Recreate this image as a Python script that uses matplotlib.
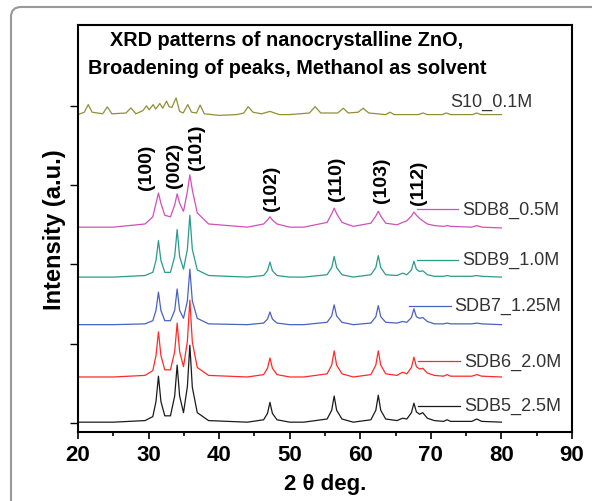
import matplotlib
matplotlib.use("Agg")
import matplotlib.pyplot as plt
from matplotlib.patches import FancyBboxPatch

plt.rcParams['font.family'] = ['Liberation Sans', 'DejaVu Sans']

# 2 theta grid shared by the ZnO patterns
two_theta = [20.0, 25.0,
             29.5, 30.6, 31.05, 31.4, 31.75, 32.3, 33.1, 33.7,
             34.05, 34.4, 34.95, 35.5, 35.85, 36.2, 36.9, 38.5,
             44.0,
             46.3, 46.85, 47.2, 47.55, 48.2,
             50.0, 52.0,
             55.3, 55.95, 56.3, 56.65, 57.4,
             59.0,
             61.5, 62.2, 62.55, 62.9, 63.6,
             65.2, 66.0, 66.6, 67.25, 67.6, 67.95, 68.4, 68.85, 69.5, 70.5,
             71.8, 72.3, 72.8,
             75.8, 76.5, 77.2,
             80.0]

sdb5 = [0, 0,
        0.02, 0.07, 0.26, 0.58, 0.26, 0.08, 0.08, 0.33,
        0.72, 0.33, 0.12, 0.45, 0.97, 0.44, 0.12, 0.02,
        0.0,
        0.03, 0.11, 0.25, 0.11, 0.03,
        0.0, 0.0,
        0.04, 0.15, 0.33, 0.15, 0.04,
        0.0,
        0.03, 0.15, 0.34, 0.15, 0.04,
        0.02, 0.05, 0.04, 0.12, 0.24, 0.13, 0.1, 0.12, 0.05, 0.02,
        0.01, 0.03, 0.01,
        0.01, 0.04, 0.01,
        0.0]
sdb6 = [0, 0,
        0.02, 0.08, 0.27, 0.57, 0.27, 0.09, 0.09, 0.32,
        0.68, 0.32, 0.13, 0.45, 0.97, 0.44, 0.12, 0.02,
        0.0,
        0.03, 0.11, 0.24, 0.11, 0.03,
        0.0, 0.0,
        0.04, 0.15, 0.33, 0.15, 0.04,
        0.0,
        0.03, 0.15, 0.33, 0.15, 0.04,
        0.02, 0.06, 0.04, 0.12, 0.25, 0.13, 0.1, 0.11, 0.05, 0.02,
        0.01, 0.03, 0.01,
        0.01, 0.03, 0.01,
        0.0]
sdb7 = [0, 0,
        0.01, 0.05, 0.18, 0.41, 0.18, 0.05, 0.05, 0.18,
        0.45, 0.18, 0.08, 0.3, 0.70, 0.3, 0.08, 0.01,
        0.0,
        0.02, 0.07, 0.16, 0.07, 0.02,
        0.0, 0.0,
        0.03, 0.11, 0.25, 0.11, 0.03,
        0.0,
        0.02, 0.1, 0.24, 0.1, 0.03,
        0.02, 0.04, 0.03, 0.09, 0.2, 0.1, 0.08, 0.09, 0.04, 0.01,
        0.01, 0.02, 0.01,
        0.01, 0.02, 0.01,
        0.0]
sdb9 = [0, 0,
        0.02, 0.06, 0.21, 0.46, 0.21, 0.06, 0.06, 0.26,
        0.60, 0.26, 0.1, 0.35, 0.78, 0.35, 0.09, 0.02,
        0.0,
        0.02, 0.08, 0.19, 0.08, 0.02,
        0.0, 0.0,
        0.03, 0.12, 0.26, 0.12, 0.03,
        0.0,
        0.03, 0.12, 0.27, 0.12, 0.03,
        0.02, 0.05, 0.03, 0.09, 0.2, 0.1, 0.07, 0.08, 0.03, 0.01,
        0.01, 0.02, 0.01,
        0.01, 0.02, 0.01,
        0.0]
sdb8 = [0, 0,
        0.04, 0.13, 0.3, 0.43, 0.3, 0.15, 0.13, 0.28,
        0.42, 0.3, 0.2, 0.45, 0.66, 0.47, 0.18, 0.04,
        0.0,
        0.04, 0.09, 0.13, 0.09, 0.04,
        0.0, 0.0,
        0.06, 0.17, 0.24, 0.17, 0.06,
        0.01,
        0.05, 0.14, 0.2, 0.14, 0.05,
        0.03, 0.06, 0.08, 0.14, 0.19, 0.15, 0.11, 0.08, 0.04, 0.02,
        0.01, 0.02, 0.01,
        0.0, 0.02, 0.0,
        -0.01]

# S10 pattern (no ZnO peaks, many small reflections)
s10_theta = [20.0, 20.9, 21.45, 22.0, 23.5, 24.15, 24.8, 26.8, 27.5, 28.2,
             29.2, 29.7, 30.1, 30.65, 31.0, 31.6, 32.0, 32.55, 32.9, 33.3,
             33.9, 34.4, 34.9, 35.55, 36.1, 36.8, 37.3, 37.9, 40.0, 42.5,
             43.5, 44.1, 44.8, 46.0, 47.2, 48.5, 50.0, 52.8, 53.6, 54.4,
             56.8, 57.6, 58.3, 59.7, 60.4, 61.2, 63.6, 64.2, 64.8, 68.2,
             68.9, 69.5, 71.6, 72.2, 72.8, 75.9, 76.5, 77.1, 80.0]
s10 = [0.0, 0.03, 0.126, 0.03, 0.01, 0.097, 0.01, 0.02, 0.084, 0.01,
       0.05, 0.11, 0.06, 0.126, 0.07, 0.14, 0.08, 0.17, 0.1, 0.09,
       0.21, 0.04, 0.02, 0.126, 0.03, 0.02, 0.12, 0.01, -0.01, 0.0,
       0.02, 0.1, 0.03, 0.01, 0.04, 0.0, 0.0, 0.02, 0.1, 0.02,
       0.02, 0.08, 0.02, 0.03, 0.08, 0.02, 0.0, 0.03, 0.0, 0.0,
       0.02, 0.0, 0.0, 0.02, 0.0, 0.0, 0.02, 0.0, 0.0]

patterns = [sdb5, sdb6, sdb7, sdb9, sdb8]
names = ['SDB5_2.5M', 'SDB6_2.0M', 'SDB7_1.25M', 'SDB9_1.0M', 'SDB8_0.5M']
offsets = [0.01, 0.58, 1.24, 1.84, 2.47]
s10_name = 'S10_0.1M'
s10_offset = 3.89

hkl = ['(100)', '(002)', '(101)', '(102)', '(110)', '(103)', '(112)']

# layout
colors = ['#1a1a1a', '#ff2a2a', '#4a62c0', '#2a9a8c', '#d050b8']
s10_color = '#8f8f3a'
hkl_x = [29.7, 33.7, 36.8, 47.45, 56.65, 63.0, 68.2]
hkl_y = [2.95, 2.98, 3.2, 2.69, 2.81, 2.79, 2.76]
key_x0 = [68.2, 68.2, 66.95, 68.0, 68.0]
key_x1 = [74.2, 74.2, 72.8, 73.9, 73.9]
key_y = [0.22, 0.78, 1.48, 2.06, 2.70]

fig = plt.figure(figsize=(5.92, 5.02), dpi=100)
ax = fig.add_axes([78 / 592, 69 / 502, 494 / 592, 407 / 502])

for i in range(len(patterns)):
    ax.plot(two_theta, [v + offsets[i] for v in patterns[i]],
            color=colors[i], lw=0.9)
    ax.plot([key_x0[i], key_x1[i]], [key_y[i], key_y[i]],
            color=colors[i], lw=0.9)
    ax.text(key_x1[i] + 0.5, key_y[i], names[i], ha='left', va='center',
            fontsize=13, color='#333333')

ax.plot(s10_theta, [v + s10_offset for v in s10], color=s10_color, lw=0.9)
ax.text(72.7, 4.05, s10_name, ha='left', va='center', fontsize=13,
        color='#333333')

for lab, x, y in zip(hkl, hkl_x, hkl_y):
    ax.text(x, y, lab, rotation=90, ha='center', va='bottom',
            fontsize=14, fontweight='bold')

ax.text(0.423, 0.929,
        'XRD patterns of nanocrystalline ZnO,\nBroadening of peaks, Methanol as solvent',
        transform=ax.transAxes, ha='center', va='center', fontsize=14.3,
        fontweight='bold', linespacing=1.6)

ax.set_xlim(20, 90)
ax.set_ylim(-0.114, 5.02)
ax.set_xticks(range(20, 91, 10))
ax.set_xticks(range(25, 90, 10), minor=True)
ax.set_yticks([0, 1, 2, 3, 4])
ax.set_yticklabels([])
ax.tick_params(axis='x', which='major', direction='out', length=5, width=1.2,
               labelsize=16)
ax.tick_params(axis='x', which='minor', direction='out', length=3, width=1.2)
ax.tick_params(axis='y', direction='out', length=6, width=1.0)
for lab in ax.get_xticklabels():
    lab.set_fontweight('bold')
for sp in ax.spines.values():
    sp.set_linewidth(1.5)

ax.set_xlabel('2 \u03b8 deg.', fontsize=16, fontweight='bold', labelpad=6)
ax.set_ylabel('Intensity (a.u.)', fontsize=17, fontweight='bold', labelpad=-1)

# rounded grey frame around the figure (cut at right and bottom)
frame = FancyBboxPatch((11, -40), 700, 534,
                       boxstyle='round,pad=0,rounding_size=10',
                       transform=None, fill=False, ec='#999999', lw=1.5)
fig.patches.append(frame)

fig.savefig('out.png', dpi=100)
